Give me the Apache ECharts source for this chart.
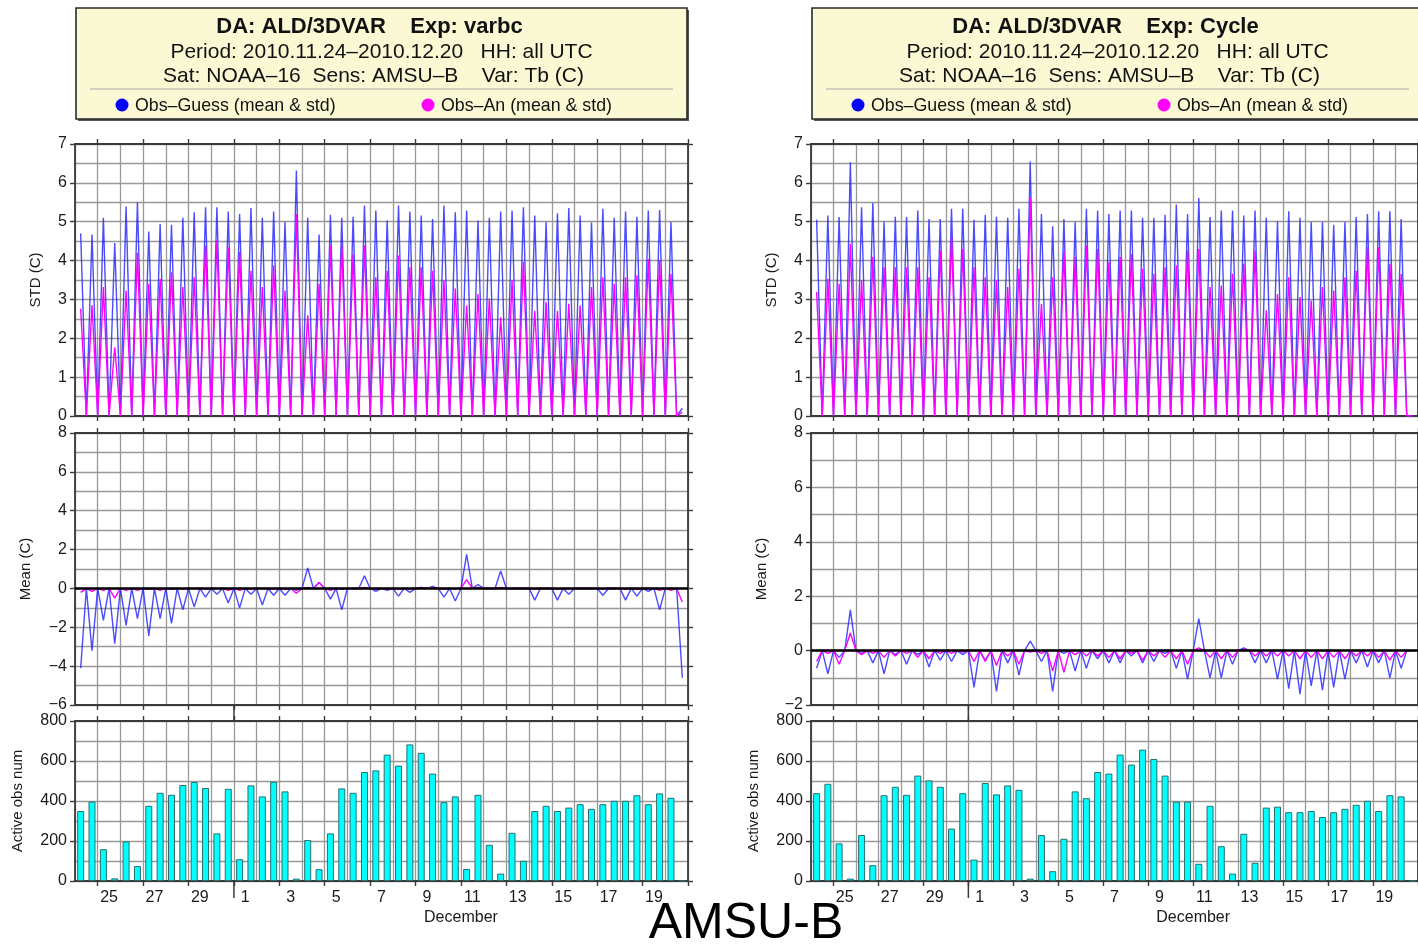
<!DOCTYPE html>
<html><head><meta charset="utf-8">
<script src="https://cdn.jsdelivr.net/npm/echarts@6/dist/echarts.min.js"></script>
<style>html,body{margin:0;padding:0;background:#fff}#c{width:1418px;height:944px}</style>
</head><body><div id="c"></div><script>
const FONT = '"Liberation Sans", Arial, Helvetica, sans-serif';

// ---- data: values at the 06 and 18 UTC cycles of each day, 2010-11-24 .. 2010-12-20 (pairs per day)
// Experiment "varbc" (left)
const varbcStdGuess = [4.70,4.67, 5.10,4.45, 5.39,5.50, 4.75,4.94, 4.92,5.10, 5.24,5.37, 5.37,5.26, 5.20,5.35, 5.10,5.26, 4.99,6.32, 5.10,4.67, 5.18,5.10, 5.13,5.42, 5.29,5.03, 5.42,5.26, 5.16,5.07, 5.42,5.24, 5.29,5.03, 5.10,5.26, 5.29,5.37, 5.16,4.99, 5.22,5.35, 5.16,4.98, 5.33,5.10, 5.26,5.13, 5.29,5.30, 4.99,0.20];
const varbcStdAn    = [2.76,2.85, 3.32,1.77, 3.23,4.20, 3.40,3.53, 3.70,3.32, 3.57,4.39, 4.52,4.34, 4.22,3.74, 3.32,3.87, 3.23,5.20, 2.59,3.40, 4.39,4.39, 4.17,4.39, 3.57,3.74, 4.13,3.83, 3.83,3.74, 3.49,3.28, 2.84,3.14, 3.02,2.54, 3.49,3.96, 2.71,2.93, 2.71,2.89, 2.84,3.32, 3.57,3.40, 3.57,3.62, 4.04,4.00, 3.66,0.10];
const varbcMeanGuess = [-4.10,-3.20, -1.65,-2.85, -1.90,-1.55, -2.45,-1.55, -1.80,-1.10, -0.95,-0.45, -0.30,-0.75, -1.00,-0.30, -0.85,-0.35, -0.35,-0.10, 1.05,0.30, -0.55,-1.10, 0.00,0.65, -0.15,-0.10, -0.40,-0.20, 0.05,0.10, -0.45,-0.65, 1.75,0.20, 0.00,0.90, 0.00,0.00, -0.60,0.00, -0.60,-0.30, 0.00,0.00, -0.35,0.00, -0.60,-0.40, -0.15,-1.10, 0.00,-4.60];
const varbcMeanAn    = [-0.20,-0.15, -0.10,-0.50, -0.10,-0.10, -0.05,-0.10, -0.05,-0.05, 0.00,-0.05, 0.00,-0.10, -0.10,-0.05, 0.00,-0.05, -0.05,-0.25, 0.05,0.30, -0.10,-0.05, 0.00,0.05, -0.05,-0.05, -0.05,-0.05, 0.05,0.05, -0.05,-0.05, 0.45,0.05, 0.00,0.05, 0.00,0.00, -0.05,0.00, -0.05,-0.05, 0.00,0.00, -0.05,0.00, -0.05,-0.05, 0.00,-0.10, -0.10,-0.70];
const varbcObsNum    = [350,397, 159,13, 198,75, 376,441, 431,480, 495,465, 238,461, 109,478, 423,496, 448,12, 205,59, 238,463, 441,545, 553,632, 577,683, 641,537, 394,423, 60,431, 181,37, 241,101, 350,376, 350,367, 384,361, 384,401, 401,429, 384,438, 416,2];
// Experiment "Cycle" (right)
const cycStdGuess = [5.05,5.16, 5.12,6.53, 5.37,5.48, 5.00,5.13, 5.12,5.29, 5.07,5.07, 5.33,5.33, 5.05,5.18, 5.13,5.10, 5.33,6.55, 5.20,4.88, 5.07,4.99, 5.33,5.29, 5.20,5.29, 5.29,5.10, 5.10,5.18, 5.44,5.20, 5.61,5.12, 5.29,5.29, 5.16,5.29, 5.10,5.01, 5.27,5.10, 4.99,4.99, 4.92,4.99, 5.12,5.20, 5.27,5.27, 5.07,0.00];
const cycStdAn    = [3.19,3.53, 3.40,4.43, 3.49,4.09, 3.83,3.83, 3.83,3.83, 3.57,4.26, 4.60,4.30, 3.83,3.57, 3.49,3.32, 3.79,5.63, 2.89,3.57, 4.26,4.09, 4.39,4.30, 3.96,4.09, 4.17,3.79, 3.66,3.83, 3.87,4.26, 4.30,3.32, 3.36,3.66, 3.92,4.26, 2.72,3.14, 3.57,3.06, 2.97,3.32, 3.23,3.57, 3.74,4.34, 4.34,3.92, 3.66,0.00];
const cycMeanGuess = [-0.65,-0.85, -0.25,1.50, -0.10,-0.45, -0.85,-0.15, -0.50,-0.15, -0.60,-0.35, -0.40,-0.15, -1.35,-0.35, -1.50,-0.45, -0.90,0.35, -0.40,-1.50, -0.10,-0.75, -0.65,-0.30, -0.45,-0.45, -0.20,-0.45, -0.40,-0.10, -0.65,-1.05, 1.18,-1.00, -1.00,-0.50, 0.10,-0.45, -0.45,-1.05, -1.40,-1.60, -1.30,-1.45, -1.35,-1.05, -0.45,-0.60, -0.45,-1.00, -0.65,0.00];
const cycMeanAn    = [-0.40,-0.10, -0.50,0.65, -0.15,-0.10, -0.25,-0.20, -0.10,-0.25, -0.30,-0.10, -0.10,-0.05, -0.40,-0.40, -0.55,-0.20, -0.50,-0.05, -0.10,-0.75, -0.80,-0.15, -0.20,-0.20, -0.25,-0.30, -0.10,-0.35, -0.20,-0.25, -0.30,-0.50, 0.10,-0.25, -0.30,-0.25, 0.05,-0.20, -0.20,-0.20, -0.20,-0.30, -0.25,-0.30, -0.25,-0.30, -0.20,-0.20, -0.25,-0.35, -0.25,0.00];
const cycObsNum    = [439,486, 188,12, 230,79, 429,471, 431,527, 503,471, 262,439, 107,490, 433,478, 456,12, 230,49, 211,448, 414,545, 537,632, 582,657, 610,527, 397,397, 86,376, 174,37, 236,91, 367,372, 344,344, 350,320, 344,361, 381,401, 350,429, 423,0];
// 00 and 12 UTC cycles carry no AMSU-B observations: the reference plots them as 0
const noObsValue = 0;

const titleVarbc = ['DA: ALD/3DVAR    Exp: varbc', 'Period: 2010.11.24\u20132010.12.20   HH: all UTC', 'Sat: NOAA\u201316  Sens: AMSU\u2013B    Var: Tb (C)'];
const titleCycle = ['DA: ALD/3DVAR    Exp: Cycle', 'Period: 2010.11.24\u20132010.12.20   HH: all UTC', 'Sat: NOAA\u201316  Sens: AMSU\u2013B    Var: Tb (C)'];
const legendNames = ['Obs\u2013Guess (mean & std)', 'Obs\u2013An (mean & std)'];
const yNames = ['STD (C)', 'Mean (C)', 'Active obs num'];
const monthName = 'December';
const bigTitle = 'AMSU-B';

// ---- 6-hourly cycle axis: 2010-11-24 00 UTC .. 2010-12-21 00 UTC
const firstDayUTC = Date.UTC(2010, 10, 24);
const nCycles = 109;
const cycleLabels = [];
for (let i = 0; i < nCycles; i++) {
  const d = new Date(firstDayUTC + i * 6 * 3600e3);
  const p = n => String(n).padStart(2, '0');
  cycleLabels.push(d.getUTCFullYear() + '-' + p(d.getUTCMonth() + 1) + '-' + p(d.getUTCDate()) + ' ' + p(d.getUTCHours()));
}
function lineSeriesData(active) {
  const out = new Array(nCycles).fill(null);
  for (let i = 2; i <= 106; i += 2) out[i] = noObsValue;
  active.forEach((v, k) => { out[1 + 2 * k] = v; });
  return out;
}
function barSeriesData(active) {
  const out = new Array(nCycles).fill('-');
  active.forEach((v, k) => { out[1 + 2 * k] = v; });
  return out;
}

const frameColor = '#3a3a3a', gridColor = '#999999', textColor = '#1a1a1a';
const guessColor = 'rgba(30,30,255,0.8)', anColor = '#ff00ff';
const panelLeft = [75, 811], plotWidth = 613;
const rows = [{ top: 144, height: 272 }, { top: 433, height: 272 }, { top: 721, height: 160 }];
const yCfg = [
  [{ min: 0, max: 7, interval: 1 }, { min: -6, max: 8, interval: 2 }, { min: 0, max: 800, interval: 200 }],
  [{ min: 0, max: 7, interval: 1 }, { min: -2, max: 8, interval: 2 }, { min: 0, max: 800, interval: 200 }]
];
const nameGaps = [32, 42, 50];
const panels = [
  { std: [varbcStdGuess, varbcStdAn], mean: [varbcMeanGuess, varbcMeanAn], num: varbcObsNum, title: titleVarbc },
  { std: [cycStdGuess, cycStdAn], mean: [cycMeanGuess, cycMeanAn], num: cycObsNum, title: titleCycle }
];

const grid = [], xAxis = [], yAxis = [], series = [];
const dayLabel = v => String(parseInt(v.slice(8, 10), 10));
const minusLabel = v => String(v).replace('-', '\u2212');
panels.forEach((pan, p) => {
  rows.forEach((r, row) => {
    const gi = p * 3 + row;
    grid.push({ left: panelLeft[p], width: plotWidth, top: r.top, height: r.height, containLabel: false });
    const isBar = row === 2;
    const tick = { show: true, interval: (i) => i % 8 === 4, length: 5, inside: false, lineStyle: { color: frameColor, width: 1.4 } };
    const line = { show: true, onZero: false, lineStyle: { color: frameColor, width: 1.8 } };
    xAxis.push({
      gridIndex: gi, type: 'category', data: cycleLabels, boundaryGap: false, position: 'bottom',
      axisLine: line, axisTick: tick,
      axisLabel: { show: isBar, interval: (i) => i % 8 === 6, formatter: dayLabel, fontSize: 16, color: textColor, margin: 9, fontFamily: FONT },
      splitLine: { show: true, interval: (i) => i % 4 === 0, lineStyle: { color: gridColor, width: 1.3 } }
    });
    xAxis.push({
      gridIndex: gi, type: 'category', data: cycleLabels, boundaryGap: false, position: 'top',
      axisLine: line, axisTick: tick, axisLabel: { show: false }, splitLine: { show: false }
    });
    const yc = yCfg[p][row];
    yAxis.push({
      gridIndex: gi, type: 'value', position: 'left', min: yc.min, max: yc.max, interval: yc.interval,
      axisLine: { show: true, onZero: false, lineStyle: { color: frameColor, width: 1.8 } },
      axisTick: { show: true, length: 5, lineStyle: { color: frameColor, width: 1.4 } },
      axisLabel: { fontSize: 16, color: textColor, margin: 8, fontFamily: FONT, formatter: minusLabel },
      splitLine: { show: true, lineStyle: { color: gridColor, width: 1.3 } },
      minorTick: { show: false, splitNumber: 2 },
      minorSplitLine: { show: true, lineStyle: { color: gridColor, width: 1.3 } },
      name: yNames[row], nameLocation: 'middle', nameGap: nameGaps[row],
      nameTextStyle: { fontSize: 15, color: textColor, fontFamily: FONT }
    });
    yAxis.push({
      gridIndex: gi, type: 'value', position: 'right', min: yc.min, max: yc.max, interval: yc.interval,
      axisLine: { show: true, onZero: false, lineStyle: { color: frameColor, width: 1.8 } },
      axisTick: { show: true, length: 5, lineStyle: { color: frameColor, width: 1.4 } },
      axisLabel: { show: false }, splitLine: { show: false }
    });
    const xi = 2 * gi, yi = 2 * gi;
    if (row === 0 || row === 1) {
      const src = row === 0 ? pan.std : pan.mean;
      const guess = {
        type: 'line', xAxisIndex: xi, yAxisIndex: yi, data: lineSeriesData(src[0]), symbol: 'none',
        lineStyle: { color: guessColor, width: 1.4 }, connectNulls: false, animation: false, z: 3
      };
      if (row === 1) {
        guess.markLine = { silent: true, symbol: 'none', label: { show: false },
          lineStyle: { color: '#000', width: 2.6, type: 'solid' }, data: [{ yAxis: 0 }] };
      }
      series.push(guess);
      series.push({
        type: 'line', xAxisIndex: xi, yAxisIndex: yi, data: lineSeriesData(src[1]), symbol: 'none',
        lineStyle: { color: anColor, width: 1.4 }, connectNulls: false, animation: false, z: 4
      });
    } else {
      series.push({
        type: 'bar', xAxisIndex: xi, yAxisIndex: yi, data: barSeriesData(pan.num), barWidth: 7,
        itemStyle: { color: '#00ffff', borderColor: '#2a6e6e', borderWidth: 1 }, animation: false
      });
    }
  });
});

const chart = echarts.init(document.getElementById('c'), null, { renderer: 'canvas', width: 1418, height: 944 });
chart.setOption({ backgroundColor: '#ffffff', animation: false, grid, xAxis, yAxis, series });

// ---- decorations (title boxes, December label, month tick), positioned from the axes
const graphics = [];
panels.forEach((pan, p) => {
  const x0 = panelLeft[p] + 1, w = plotWidth - 2, cx = x0 + w / 2;
  graphics.push({ type: 'rect', shape: { x: x0 + 2, y: 10, width: w, height: 111 }, style: { fill: '#555' }, z: 10 });
  graphics.push({ type: 'rect', shape: { x: x0, y: 8, width: w, height: 111 }, style: { fill: '#fbf9d4', stroke: '#2a2a2a', lineWidth: 1.6 }, z: 11 });
  graphics.push({ type: 'text', x: cx - 12, y: 27, style: { text: pan.title[0], font: 'bold 22px ' + FONT, fill: '#111', textAlign: 'center', textVerticalAlign: 'middle' }, z: 12 });
  graphics.push({ type: 'text', x: cx, y: 52, style: { text: pan.title[1], font: '21px ' + FONT, fill: '#111', textAlign: 'center', textVerticalAlign: 'middle' }, z: 12 });
  graphics.push({ type: 'text', x: cx - 8, y: 76, style: { text: pan.title[2], font: '21px ' + FONT, fill: '#111', textAlign: 'center', textVerticalAlign: 'middle' }, z: 12 });
  graphics.push({ type: 'line', shape: { x1: x0 + 14, y1: 89, x2: x0 + w - 14, y2: 89 }, style: { stroke: '#aaa', lineWidth: 1 }, z: 12 });
  const lx = [x0 + 46, x0 + 352];
  [0, 1].forEach((k) => {
    graphics.push({ type: 'circle', shape: { cx: lx[k], cy: 105, r: 6.5 }, style: { fill: k === 0 ? '#0000ff' : '#ff00ff' }, z: 12 });
    graphics.push({ type: 'text', x: lx[k] + 13, y: 106, style: { text: legendNames[k], font: '17.8px ' + FONT, fill: '#111', textAlign: 'left', textVerticalAlign: 'middle' }, z: 12 });
  });
  // month boundary tick (Dec 1) and month name, from the bar panel axes
  const giMean = p * 3 + 1, giBar = p * 3 + 2;
  const xDec1 = chart.convertToPixel({ xAxisIndex: 2 * giBar }, 28);
  const yBarBottom = chart.convertToPixel({ yAxisIndex: 2 * giBar }, 0);
  const yBarTop = chart.convertToPixel({ yAxisIndex: 2 * giBar }, 800);
  const yMeanBottom = chart.convertToPixel({ yAxisIndex: 2 * giMean }, yCfg[p][1].min);
  graphics.push({ type: 'line', shape: { x1: xDec1, y1: yBarBottom, x2: xDec1, y2: yBarBottom + 17 }, style: { stroke: frameColor, lineWidth: 1.5 }, z: 12 });
  graphics.push({ type: 'line', shape: { x1: xDec1, y1: yMeanBottom, x2: xDec1, y2: yBarTop }, style: { stroke: frameColor, lineWidth: 1.5 }, z: 12 });
  const xMid = chart.convertToPixel({ xAxisIndex: 2 * giBar }, 68);
  graphics.push({ type: 'text', x: xMid, y: yBarBottom + 37, style: { text: monthName, font: '16px ' + FONT, fill: textColor, textAlign: 'center', textVerticalAlign: 'middle' }, z: 12 });
});
graphics.push({ type: 'text', x: 746, y: 924, style: { text: bigTitle, font: '50px ' + FONT, fill: '#000', textAlign: 'center', textVerticalAlign: 'middle' }, z: 20 });
chart.setOption({ graphic: graphics });
</script></body></html>
